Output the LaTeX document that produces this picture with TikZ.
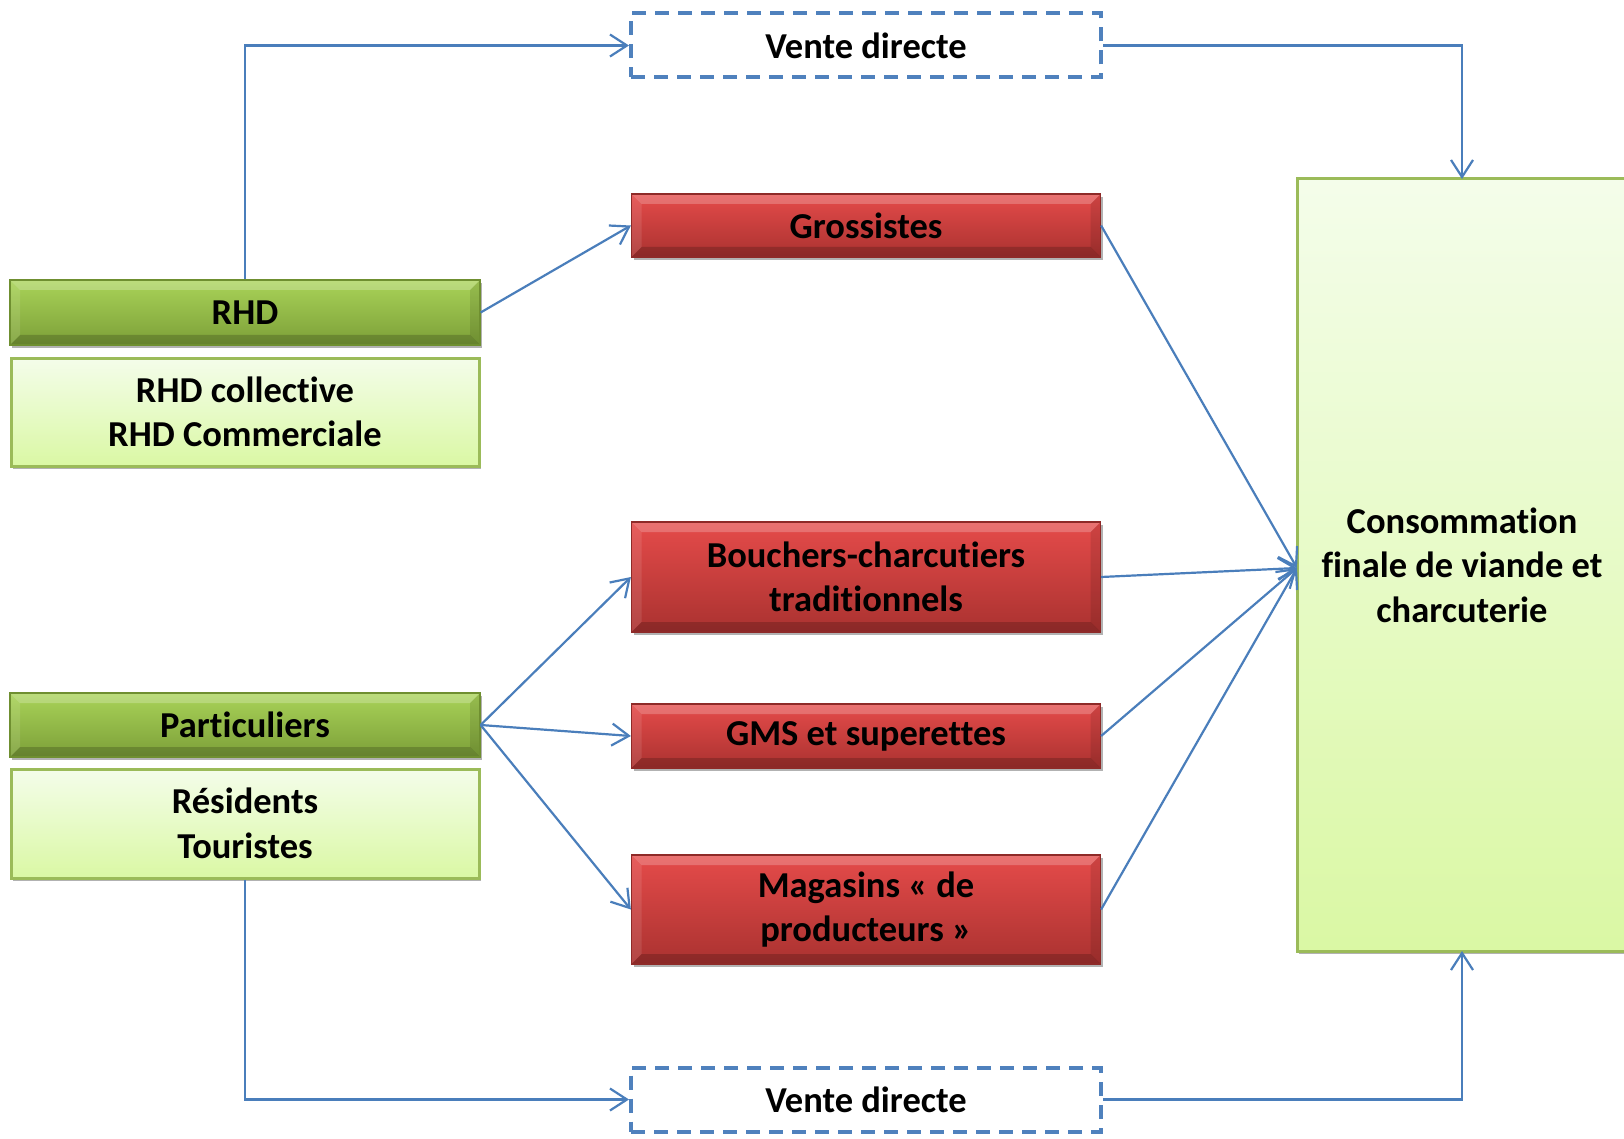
\documentclass[tikz,border=0pt]{standalone}
\usepackage{fontspec}
\setmainfont{Carlito}[Ligatures={NoCommon,NoRequired,NoContextual}]
\usetikzlibrary{arrows.meta,shadows}
\definecolor{lnblue}{HTML}{4A7EBB}
\definecolor{dshblue}{HTML}{4F81BD}
\definecolor{gtop}{HTML}{A9D358}
\definecolor{gbot}{HTML}{7C9F38}
\definecolor{gbord}{HTML}{6F8F30}
\definecolor{ltop}{HTML}{F4FDEA}
\definecolor{lbot}{HTML}{DAF8A4}
\definecolor{lbord}{HTML}{9BBB59}
\definecolor{rtop}{HTML}{E54B4A}
\definecolor{rbot}{HTML}{AA3230}
\definecolor{rbord}{HTML}{8E2A28}
\tikzset{
  txt/.style={font=\fontsize{36.5}{44.5}\selectfont\bfseries, align=center, text=black, inner sep=0pt},
  shad/.style={drop shadow={shadow xshift=2pt, shadow yshift=-3pt, opacity=0.3, fill=black}},
  bevel/.style={path picture={
    \fill[white,opacity=0.22] (path picture bounding box.north west) -- (path picture bounding box.north east) -- ([xshift=-10pt,yshift=-10pt]path picture bounding box.north east) -- ([xshift=10pt,yshift=-10pt]path picture bounding box.north west) -- cycle;
    \fill[white,opacity=0.10] (path picture bounding box.north west) -- ([xshift=10pt,yshift=-10pt]path picture bounding box.north west) -- ([xshift=10pt,yshift=10pt]path picture bounding box.south west) -- (path picture bounding box.south west) -- cycle;
    \fill[black,opacity=0.18] (path picture bounding box.south west) -- (path picture bounding box.south east) -- ([xshift=-10pt,yshift=10pt]path picture bounding box.south east) -- ([xshift=10pt,yshift=10pt]path picture bounding box.south west) -- cycle;
    \fill[black,opacity=0.10] (path picture bounding box.north east) -- ([xshift=-10pt,yshift=-10pt]path picture bounding box.north east) -- ([xshift=-10pt,yshift=10pt]path picture bounding box.south east) -- (path picture bounding box.south east) -- cycle;
  }},
  headbox/.style={txt, shad, bevel, top color=gtop, bottom color=gbot, draw=gbord, line width=1.2pt, minimum width=470pt},
  subbox/.style={txt, shad, top color=ltop, bottom color=lbot, draw=lbord, line width=3pt, minimum width=468pt},
  redbox/.style={txt, shad, bevel, top color=rtop, bottom color=rbot, draw=rbord, line width=1.2pt, minimum width=469pt},
  vdbox/.style={txt, draw=dshblue, line width=4pt, dash pattern=on 14pt off 9pt, minimum width=470pt, minimum height=64pt},
  conn/.style={draw=lnblue, line width=2.2pt, -{Straight Barb[length=17pt,width=22pt,line width=2.2pt]}},
  plain/.style={draw=lnblue, line width=2.2pt},
}
\begin{document}
\begin{tikzpicture}[x=1pt,y=-1pt]
\useasboundingbox (0,0) rectangle (1624,1139);
% boxes
\node[headbox, minimum height=65pt] (rhd) at (245,312.5) {RHD};
\node[subbox, minimum height=108pt] (rhdsub) at (245,412) {RHD collective\\RHD Commerciale};
\node[headbox, minimum height=64pt] (part) at (245,725) {Particuliers};
\node[subbox, minimum height=109pt] (partsub) at (245,823.5) {Résidents\\Touristes};
\node[vdbox] (vdtop) at (866,45.5) {Vente directe};
\node[redbox, minimum height=63pt] (gros) at (866,225.5) {Grossistes};
\node[redbox, minimum height=110pt] (bouch) at (866,577) {Bouchers-charcutiers\\traditionnels};
\node[redbox, minimum height=64pt] (gms) at (866,736) {GMS et superettes};
\node[redbox, minimum height=109pt] (mag) at (866,909.5) {Magasins « de\\producteurs »};
\node[vdbox] (vdbot) at (866,1099.5) {Vente directe};
\node[txt, shad, top color=ltop, bottom color=lbot, draw=lbord, line width=3pt, minimum width=336pt, minimum height=772pt] (cons) at (1465,565) {};
\node[txt] (constxt) at (1462,565) {Consommation\\finale de viande et\\charcuterie};
% connectors
\coordinate (cin) at (1297,568);
\coordinate (ctop) at (1462,179);
\coordinate (cbot) at (1462,951);
\draw[conn] (rhd.north) |- (vdtop.west);
\draw[conn] (vdtop.east) -| (ctop);
\draw[conn] (partsub.south) |- (vdbot.west);
\draw[conn] (vdbot.east) -| (cbot);
\draw[conn] (rhd.east) -- (gros.west);
\draw[conn] (part.east) -- (bouch.west);
\draw[conn] (part.east) -- (gms.west);
\draw[conn] (part.east) -- (mag.west);
\draw[conn] (gros.east) -- (cin);
\draw[conn] (bouch.east) -- (cin);
\draw[conn] (gms.east) -- (cin);
\draw[conn] (mag.east) -- (cin);
\end{tikzpicture}
\end{document}
